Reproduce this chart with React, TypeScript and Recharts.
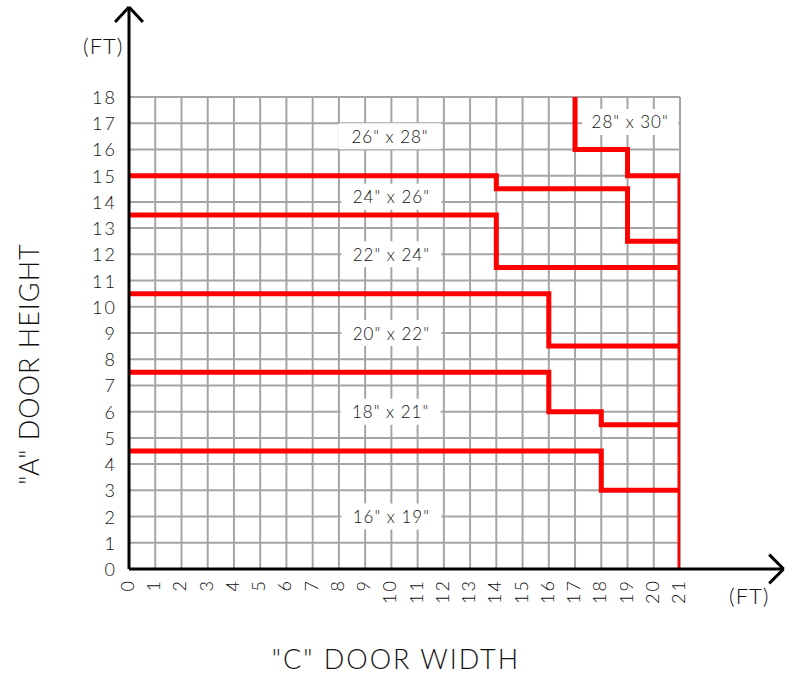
import React from 'react';
import {
  ComposedChart,
  Line,
  Scatter,
  XAxis,
  YAxis,
  CartesianGrid,
  ReferenceLine,
} from 'recharts';

// feet, both axes
const xTicks = [0, 1, 2, 3, 4, 5, 6, 7, 8, 9, 10, 11, 12, 13, 14, 15, 16, 17, 18, 19, 20, 21];
const yTicks = [0, 1, 2, 3, 4, 5, 6, 7, 8, 9, 10, 11, 12, 13, 14, 15, 16, 17, 18];

// zone boundaries (stepped), x = width "C", y = height "A"
const edge16x19 = [
  { x: 0, y: 4.5 }, { x: 18, y: 4.5 }, { x: 18, y: 3 }, { x: 21, y: 3 },
];
const edge18x21 = [
  { x: 0, y: 7.5 }, { x: 16, y: 7.5 }, { x: 16, y: 6 }, { x: 18, y: 6 },
  { x: 18, y: 5.5 }, { x: 21, y: 5.5 },
];
const edge20x22 = [
  { x: 0, y: 10.5 }, { x: 16, y: 10.5 }, { x: 16, y: 8.5 }, { x: 21, y: 8.5 },
];
const edge22x24 = [
  { x: 0, y: 13.5 }, { x: 14, y: 13.5 }, { x: 14, y: 11.5 }, { x: 21, y: 11.5 },
];
const edge24x26 = [
  { x: 0, y: 15 }, { x: 14, y: 15 }, { x: 14, y: 14.5 }, { x: 19, y: 14.5 },
  { x: 19, y: 12.5 }, { x: 21, y: 12.5 },
];
const edge28x30 = [
  { x: 17, y: 18 }, { x: 17, y: 16 }, { x: 19, y: 16 }, { x: 19, y: 15 },
  { x: 21, y: 15 }, { x: 21, y: 0 },
];

const sizeLabels = [
  { x: 9.95, y: 16.5, label: '26" x 28"', w: 104 },
  { x: 10, y: 14.2, label: '24" x 26"', w: 100 },
  { x: 10, y: 12, label: '22" x 24"', w: 100 },
  { x: 10, y: 9, label: '20" x 22"', w: 100 },
  { x: 9.97, y: 6, label: '18" x 21"', w: 100 },
  { x: 10, y: 2, label: '16" x 19"', w: 100 },
  { x: 19.1, y: 17.05, label: '28" x 30"', w: 96 },
];

const FONT = 'Lato, "DejaVu Sans", sans-serif';
const RED = '#ff0000';
const INK = '#111';

const YTick = ({ x, y, payload }: any) => (
  <text x={x - 4} y={y} textAnchor="end" dominantBaseline="central" letterSpacing={2}
    fontFamily={FONT} fontWeight={300} fontSize={18} fill={INK}>
    {payload.value}
  </text>
);

const XTick = ({ x, y, payload }: any) => (
  <text transform={`translate(${x - 2},${y + 2}) rotate(-90)`} textAnchor="end" letterSpacing={2}
    dominantBaseline="central" fontFamily={FONT} fontWeight={300} fontSize={18} fill={INK}>
    {payload.value}
  </text>
);

const SizeLabel = (props: any) => {
  const { cx, cy, payload } = props;
  const w = payload.w;
  return (
    <g>
      <rect x={cx - w / 2} y={cy - 13} width={w} height={26} fill="#fff" rx={2} />
      <text x={cx} y={cy} textAnchor="middle" dominantBaseline="central" letterSpacing={1}
        fontFamily={FONT} fontWeight={300} fontSize={17} fill={INK}>
        {payload.label}
      </text>
    </g>
  );
};

const edges = [edge16x19, edge18x21, edge20x22, edge22x24, edge24x26, edge28x30];

export default function App() {
  return (
    <div style={{ position: 'absolute', left: 0, top: 0, width: 785, height: 677, background: '#fff' }}>
      <ComposedChart width={785} height={677} margin={{ top: 97, right: 105, left: 89, bottom: 78 }}>
        <CartesianGrid stroke="#a5a5a5" strokeWidth={2} />
        <XAxis dataKey="x" type="number" domain={[0, 21]} ticks={xTicks} interval={0}
          axisLine={false} tickLine={false} tick={<XTick />} height={30} allowDataOverflow />
        <YAxis type="number" domain={[0, 18]} ticks={yTicks} interval={0}
          axisLine={false} tickLine={false} tick={<YTick />} width={40} allowDataOverflow />
        {edges.map((d, i) => (
          <Line key={i} data={d} dataKey="y" type="linear" stroke={RED} strokeWidth={5}
            strokeLinejoin="miter" dot={false} activeDot={false} isAnimationActive={false} />
        ))}
        <Scatter data={sizeLabels} dataKey="y" shape={<SizeLabel />} isAnimationActive={false} />
        {/* black axes with open arrowheads */}
        <ReferenceLine segment={[{ x: 0, y: 0 }, { x: 0, y: 21.43 }]} stroke="#000" strokeWidth={3} ifOverflow="visible" />
        <ReferenceLine segment={[{ x: -0.53, y: 20.86 }, { x: 0, y: 21.43 }]} stroke="#000" strokeWidth={3} ifOverflow="visible" />
        <ReferenceLine segment={[{ x: 0.53, y: 20.86 }, { x: 0, y: 21.43 }]} stroke="#000" strokeWidth={3} ifOverflow="visible" />
        <ReferenceLine segment={[{ x: 0, y: 0 }, { x: 24.95, y: 0 }]} stroke="#000" strokeWidth={3} ifOverflow="visible" />
        <ReferenceLine segment={[{ x: 24.4, y: 0.55 }, { x: 24.95, y: 0 }]} stroke="#000" strokeWidth={3} ifOverflow="visible" />
        <ReferenceLine segment={[{ x: 24.4, y: -0.55 }, { x: 24.95, y: 0 }]} stroke="#000" strokeWidth={3} ifOverflow="visible" />
      </ComposedChart>
      <div style={{ position: 'absolute', left: 83, top: 32, fontFamily: FONT, fontWeight: 300, fontSize: 22, letterSpacing: 1, color: INK }}>(FT)</div>
      <div style={{ position: 'absolute', left: 729, top: 582, fontFamily: FONT, fontWeight: 300, fontSize: 22, letterSpacing: 1, color: INK }}>(FT)</div>
      <div style={{ position: 'absolute', left: 0, top: 642, width: 792, textAlign: 'center', fontFamily: FONT, fontWeight: 300, fontSize: 27, letterSpacing: 2, color: INK }}>"C" DOOR WIDTH</div>
      <div style={{
        position: 'absolute', left: 28, top: 364, transform: 'translate(-50%, -50%) rotate(-90deg)',
        whiteSpace: 'nowrap', fontFamily: FONT, fontWeight: 300, fontSize: 27, letterSpacing: 1, color: INK,
      }}>"A" DOOR HEIGHT</div>
    </div>
  );
}
